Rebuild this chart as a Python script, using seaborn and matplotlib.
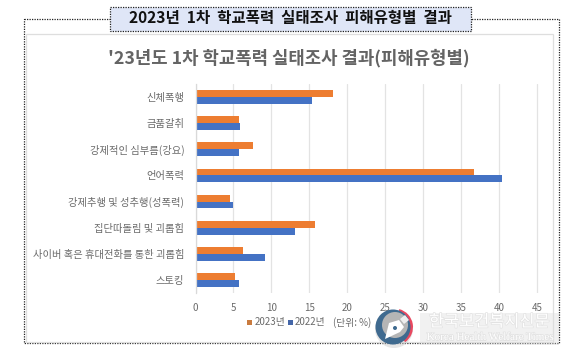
import matplotlib
matplotlib.use("Agg")
import matplotlib.pyplot as plt
from matplotlib.patches import Rectangle, Circle, Wedge, Polygon
import matplotlib.patheffects as pe
import pandas as pd
import seaborn as sns

categories = ['신체폭행', '금품갈취', '강제적인 심부름(강요)', '언어폭력',
              '강제추행 및 성추행(성폭력)', '집단따돌림 및 괴롭힘',
              '사이버 혹은 휴대전화를 통한 괴롭힘', '스토킹']
values_2023 = [18.1, 5.7, 7.6, 36.7, 4.5, 15.7, 6.3, 5.2]
values_2022 = [15.3, 5.8, 5.7, 40.4, 4.9, 13.1, 9.2, 5.7]
x_ticks = [0, 5, 10, 15, 20, 25, 30, 35, 40, 45]

W, H = 576, 363
sns.set_theme(style="white")
plt.rcParams['font.family'] = ['Noto Sans CJK KR', 'DejaVu Sans']

df = pd.DataFrame({'유형': categories, '2023년': values_2023, '2022년': values_2022})
df_long = df.melt(id_vars='유형', var_name='연도', value_name='값')

fig = plt.figure(figsize=(W / 100, H / 100), dpi=100, facecolor='white')

# 바깥 점선 상자와 차트 패널 (픽셀 좌표)
bg = fig.add_axes([0, 0, 1, 1], zorder=0)
bg.set_xlim(0, W)
bg.set_ylim(H, 0)
bg.axis('off')
bg.add_patch(Rectangle((23.5, 18.5), 535.5, 324.5, fill=False, ec='#222222', lw=0.9, ls=(0, (1, 1))))
bg.add_patch(Rectangle((25.5, 34), 527, 308, fc='white', ec='#dedede', lw=0.9))
bg.add_patch(Rectangle((109.5, 6.5), 361, 24, fc='#dfe6f7', ec='#222222', lw=0.9, ls=(0, (1, 1)), zorder=3))
bg.text(290, 17.5, '2023년  1차  학교폭력  실태조사  피해유형별  결과', fontsize=11.2, fontweight='bold',
        color='#111111', ha='center', va='center', zorder=4)
bg.text(289, 58, "'23년도 1차 학교폭력 실태조사 결과(피해유형별)", fontsize=12.8, fontweight='bold',
        color='#646464', ha='center', va='center')

# 막대 영역
ax = fig.add_axes([195.5 / W, 1 - 293 / H, (546 - 195.5) / W, (293 - 84) / H], zorder=1)
ax.patch.set_alpha(0)
sns.barplot(data=df_long, y='유형', x='값', hue='연도', palette=['#ed7d31', '#4472c4'],
            width=0.53, gap=0, saturation=1, linewidth=0, legend=False, ax=ax)
ax.set_xlim(0, 46.2)
ax.set_xticks(x_ticks)
ax.set_xlabel('')
ax.set_ylabel('')
ax.grid(axis='x', color='#e3e3e3', lw=0.9)
ax.set_axisbelow(True)
sns.despine(ax=ax, top=True, right=True, bottom=True, left=False)
ax.spines['left'].set_color('#d9d9d9')
ax.spines['left'].set_linewidth(0.9)
ax.tick_params(axis='x', length=0, labelsize=7, labelcolor='#6b6b6b', pad=7)
ax.tick_params(axis='y', length=0, labelsize=7.4, labelcolor='#6b6b6b', pad=8)

# 범례
bg.add_patch(Rectangle((246.5, 320), 5, 5, fc='#c97b3f', ec='none'))
bg.text(254.5, 322.5, '2023년', fontsize=7, color='#6b6b6b', va='center')
bg.add_patch(Rectangle((288, 320), 4.5, 5, fc='#4466a8', ec='none'))
bg.text(295, 322.5, '2022년', fontsize=7, color='#6b6b6b', va='center')
bg.text(333, 322.5, '(단위: %)', fontsize=7, color='#6b6b6b', va='center')

# 워터마크
wm = fig.add_axes([0, 0, 1, 1], zorder=5)
wm.set_xlim(0, W)
wm.set_ylim(H, 0)
wm.axis('off')
wm.patch.set_alpha(0)
wm.add_patch(Rectangle((420, 313), 139, 32, fc='#dcdcdc', ec='none', alpha=0.4))
wm.add_patch(Circle((394, 329), 19, fc='#c8c8c8', ec='none', alpha=0.45))
wm.add_patch(Wedge((394.5, 327), 18.5, -75, 55, fc='#e8485f', ec='none'))
wm.add_patch(Circle((393, 327), 17.5, fc='#3f6a8f', ec='none'))
wm.add_patch(Circle((395, 325), 13, fc='#b5b5b5', ec='none'))
wm.add_patch(Polygon([[385, 339], [389, 323], [399, 320], [404, 327], [400, 332]], fc='white', ec='none'))
wm.add_patch(Polygon([[400, 319], [405, 315], [409, 320], [404, 324]], fc='#eeeeee', ec='none'))
wm.add_patch(Circle((395, 328), 2, fc='#3f6a8f', ec='none'))
shadow = [pe.withStroke(linewidth=1, foreground='#e2e2e2')]
wm.text(489.5, 322, '한국보건복지신문', fontsize=11.8, color='white', ha='center', va='center', path_effects=shadow)
wm.text(490, 337.5, 'Korea Health Welfare Times', fontsize=8, family='Liberation Serif', color='white',
        ha='center', va='center', path_effects=shadow)

fig.savefig('out.png', dpi=100)
